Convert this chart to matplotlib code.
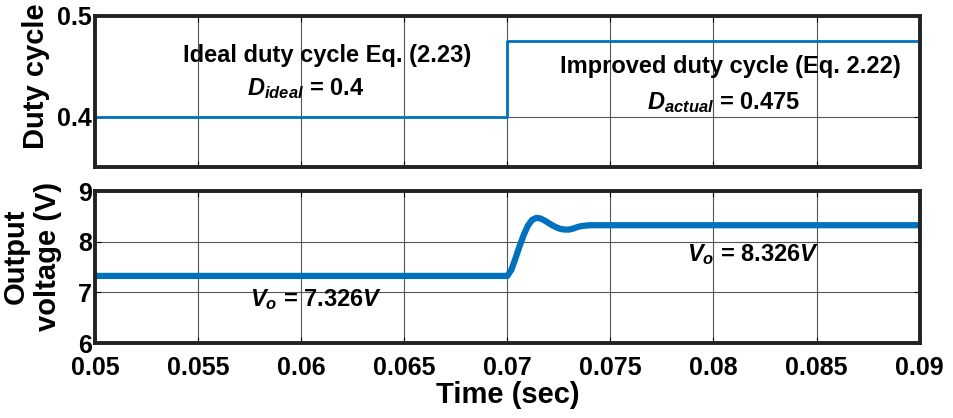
import numpy as np
import matplotlib
matplotlib.use("Agg")
import matplotlib.pyplot as plt

plt.rcParams['font.family'] = ['Liberation Sans', 'DejaVu Sans']
plt.rcParams['font.weight'] = 'bold'
plt.rcParams['mathtext.fontset'] = 'custom'
plt.rcParams['mathtext.rm'] = 'Liberation Sans'
plt.rcParams['mathtext.it'] = 'Liberation Sans:italic'
plt.rcParams['mathtext.bf'] = 'Liberation Sans:bold'
plt.rcParams['mathtext.bfit'] = 'Liberation Sans:bold:italic'

# duty cycle command: step from ideal to improved value at t = 0.07 s
d_ideal = 0.4
d_actual = 0.475
t_step = 0.07
t_duty = [0.05, t_step, t_step, 0.09]
duty = [d_ideal, d_ideal, d_actual, d_actual]

# output voltage response
vo_before = 7.326
vo_after = 8.326
t_vo = [0.05, 0.0700, 0.0702, 0.0704, 0.0706, 0.0708, 0.0710, 0.0712, 0.0714,
        0.0716, 0.0718, 0.0720, 0.0722, 0.0724, 0.0726, 0.0728, 0.0730,
        0.0732, 0.0734, 0.0736, 0.0740, 0.09]
vo = [vo_before, vo_before, 7.45, 7.68, 7.92, 8.14, 8.32, 8.43, 8.47,
      8.46, 8.42, 8.37, 8.32, 8.28, 8.25, 8.24, 8.24,
      8.26, 8.29, 8.31, 8.326, vo_after]

xticks = [0.05, 0.055, 0.06, 0.065, 0.07, 0.075, 0.08, 0.085, 0.09]
xticklabels = ['0.05', '0.055', '0.06', '0.065', '0.07', '0.075', '0.08', '0.085', '0.09']

blue = '#0072BD'

fig = plt.figure(figsize=(9.54, 4.18), dpi=100)
ax1 = fig.add_axes([0.0996, 0.600, 0.8644, 0.362])
ax2 = fig.add_axes([0.0996, 0.179, 0.8644, 0.364])

for ax in (ax1, ax2):
    ax.set_xlim(0.05, 0.09)
    ax.set_xticks(xticks)
    ax.grid(True, color='#555555', linewidth=0.8)
    ax.tick_params(direction='in', length=4, width=0.8, labelsize=18,
                   top=True, right=True)
    ax.tick_params(axis='y', pad=2)
    ax.tick_params(axis='x', pad=9)
    for s in ax.spines.values():
        s.set_linewidth(2.8)
        s.set_color('#222222')

ax1.plot(t_duty, duty, color=blue, linewidth=2)
ax1.set_ylim(0.35, 0.5)
ax1.set_yticks([0.4, 0.5])
ax1.set_yticklabels(['0.4', '0.5'])
ax1.set_xticklabels([])
ax1.set_ylabel('Duty cycle', fontsize=21, fontweight='bold')
ax1.yaxis.set_label_coords(-0.055, 0.60)

ax1.text(0.06125, 0.461, 'Ideal duty cycle Eq. (2.23)', fontsize=17,
         fontweight='bold', ha='center', va='center')
ax1.text(0.0602, 0.428, r'$\mathbfit{D}_{\mathbfit{ideal}}$ = 0.4', fontsize=17,
         fontweight='bold', ha='center', va='center')
ax1.text(0.0808, 0.450, 'Improved duty cycle (Eq. 2.22)', fontsize=17,
         fontweight='bold', ha='center', va='center')
ax1.text(0.0805, 0.414, r'$\mathbfit{D}_{\mathbfit{actual}}$ = 0.475', fontsize=17,
         fontweight='bold', ha='center', va='center')

ax2.plot(t_vo, vo, color=blue, linewidth=4.5, solid_joinstyle='round')
ax2.set_ylim(6, 9)
ax2.set_yticks([6, 7, 8, 9])
ax2.set_xticklabels(xticklabels)
ax2.set_ylabel('Output\nvoltage (V)', fontsize=21, fontweight='bold',
               linespacing=1.2)
ax2.yaxis.set_label_coords(-0.040, 0.57)
ax2.set_xlabel('Time (sec)', fontsize=21, fontweight='bold', labelpad=1)

ax2.text(0.0607, 6.86, r'$\mathbfit{V}_{\mathbfit{o}}$ = ' + f'{vo_before:.3f}' + r'$\mathbfit{V}$',
         fontsize=17, fontweight='bold', ha='center', va='center')
ax2.text(0.0819, 7.75, r'$\mathbfit{V}_{\mathbfit{o}}$ = ' + f'{vo_after:.3f}' + r'$\mathbfit{V}$',
         fontsize=17, fontweight='bold', ha='center', va='center')

fig.savefig('out.png', dpi=100)
